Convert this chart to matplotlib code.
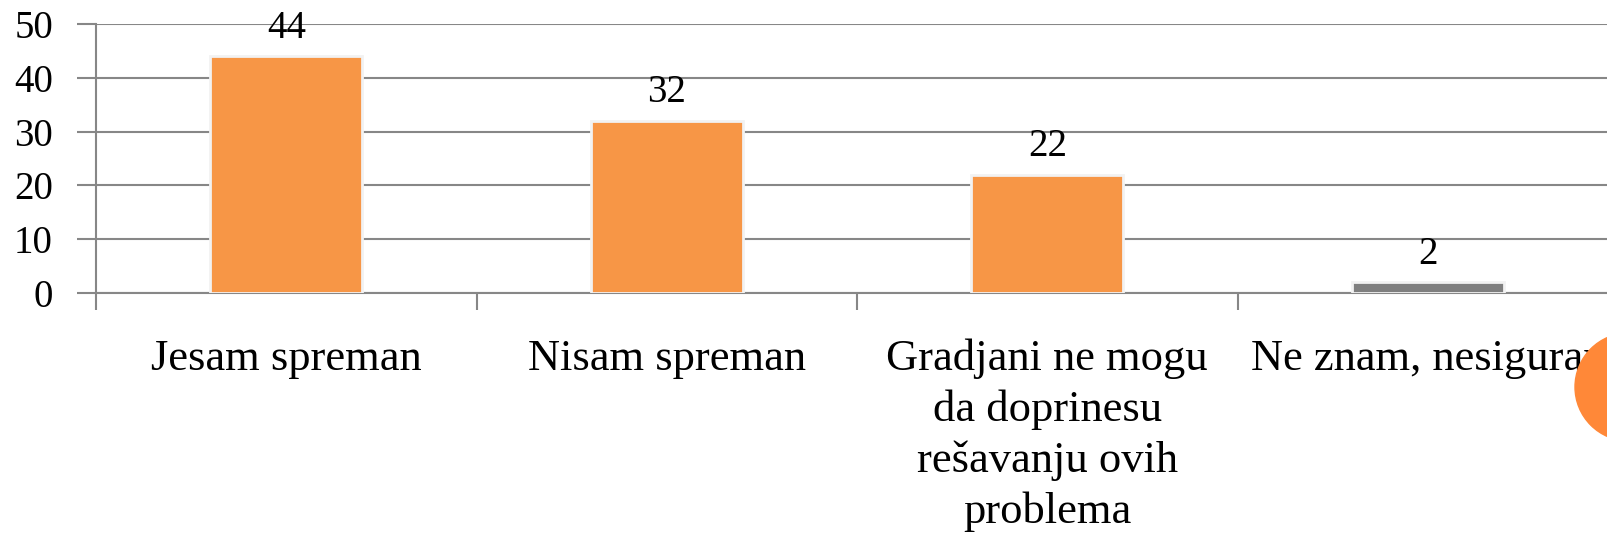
import numpy as np
import matplotlib.pyplot as plt
from matplotlib.patches import Ellipse

# podaci
kategorije = ['Jesam spreman', 'Nisam spreman',
              'Gradjani ne mogu\nda doprinesu\nrešavanju ovih\nproblema',
              'Ne znam, nesiguran']
vrijednosti = [44, 32, 22, 2]
boje = ['#F79646', '#F79646', '#F79646', '#7F7F7F']

plt.rcParams['font.family'] = ['Liberation Serif', 'DejaVu Serif']

fig = plt.figure(figsize=(16.08, 5.37), dpi=100)
W, H = 1608, 537
# osa izlazi malo preko desne ivice slike, kao na originalu
ax = fig.add_axes([96 / W, (H - 293) / H, (1618 - 96) / W, 269 / H])

x = np.arange(len(kategorije))
bars = ax.bar(x, vrijednosti, width=0.4, color=boje, edgecolor='#f2f2f2',
              linewidth=2, zorder=3)

for b, v in zip(bars, vrijednosti):
    ax.annotate(str(v), (b.get_x() + b.get_width() / 2, v), xytext=(0, 7),
                textcoords='offset points', ha='center', va='bottom',
                fontsize=28, color='black')

ax.set_xlim(-0.5, len(kategorije) - 0.5)
ax.set_ylim(0, 50)
ax.set_yticks(range(0, 51, 10))
ax.yaxis.grid(True, color='#878787', linewidth=1.5, zorder=0)
ax.tick_params(axis='y', length=14, width=1.5, color='#878787', labelsize=28, pad=17)

ax.set_xticks(x)
ax.set_xticklabels(kategorije, fontsize=32, linespacing=1.33)
ax.tick_params(axis='x', which='major', length=0, pad=33)
ax.set_xticks(np.arange(len(kategorije)) - 0.5, minor=True)
ax.tick_params(axis='x', which='minor', length=12, width=1.5, color='#878787')

for s in ['top', 'right']:
    ax.spines[s].set_visible(False)
ax.spines['left'].set_color('#878787')
ax.spines['left'].set_linewidth(1.5)
ax.spines['bottom'].set_color('#878787')
ax.spines['bottom'].set_linewidth(1.5)

# narandzasti krug u donjem desnom uglu
fig.patches.append(Ellipse((1629 / W, (H - 387) / H), 108 / W, 108 / H,
                           transform=fig.transFigure, color='#FF8838',
                           zorder=10))

fig.savefig('out.png', dpi=100)
